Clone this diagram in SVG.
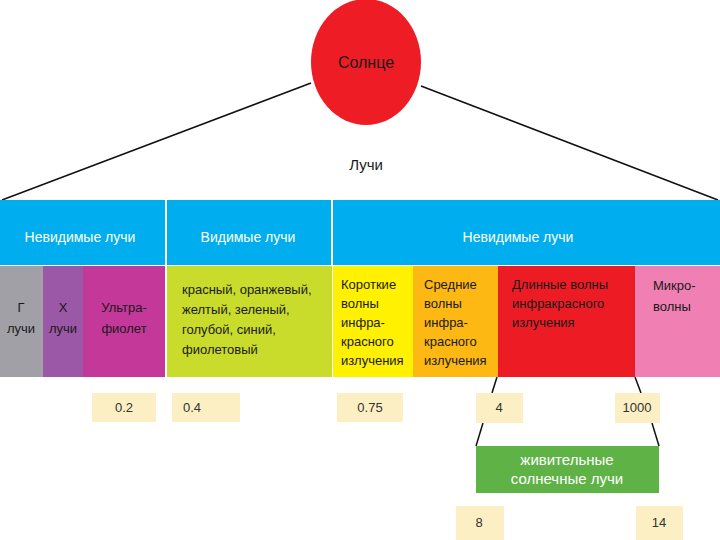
<svg xmlns="http://www.w3.org/2000/svg" width="720" height="540" viewBox="0 0 720 540">
<style>
text{font-family:"Liberation Sans","DejaVu Sans",sans-serif;}
.hd{fill:#ffffff;font-size:14px;text-anchor:middle;}
.ct{fill:#1a1a1a;font-size:13px;}
.cc{fill:#1a1a1a;font-size:13px;text-anchor:middle;}
.val{fill:#fcefc4;}
.vt{fill:#333333;font-size:13px;text-anchor:middle;}
.ln{stroke:#111111;stroke-width:1.5;fill:none;}
</style>
<rect width="720" height="540" fill="#ffffff"/>
<g id="connectors">
<line class="ln" x1="311" y1="83" x2="2" y2="200"/>
<line class="ln" x1="421" y1="86" x2="718" y2="200"/>
<line class="ln" x1="497" y1="377" x2="492" y2="393"/>
<line class="ln" x1="635" y1="377" x2="641" y2="393"/>
<line class="ln" x1="483" y1="423" x2="476" y2="446"/>
<line class="ln" x1="652" y1="423" x2="659" y2="446"/>
</g>
<g id="sun">
<ellipse cx="366" cy="62" rx="55" ry="63" fill="#ee1c25"/>
<text x="366" y="68" class="cc" font-size="16" style="font-size:16px">Солнце</text>
</g>
<g id="rays-label">
<text x="366" y="170" class="cc" style="font-size:15px">Лучи</text>
</g>
<g id="header">
<rect x="0" y="200" width="720" height="65" fill="#00aeef"/>
<line x1="166" y1="200" x2="166" y2="265" stroke="#ffffff" stroke-width="2"/>
<line x1="332" y1="200" x2="332" y2="265" stroke="#ffffff" stroke-width="2"/>
<text x="80" y="242" class="hd">Невидимые лучи</text>
<text x="248" y="242" class="hd">Видимые лучи</text>
<text x="518" y="242" class="hd">Невидимые лучи</text>
</g>
<g id="gamma">
<rect x="0" y="266" width="43" height="111" fill="#a0a0a6"/>
<text x="21" y="312" class="cc">Г</text>
<text x="21" y="333" class="cc">лучи</text>
</g>
<g id="xray">
<rect x="43" y="266" width="40" height="111" fill="#9a58a6"/>
<text x="63" y="312" class="cc">Х</text>
<text x="63" y="333" class="cc">лучи</text>
</g>
<g id="uv">
<rect x="83" y="266" width="82" height="111" fill="#c4389a"/>
<text x="124" y="312" class="cc">Ультра-</text>
<text x="124" y="333" class="cc">фиолет</text>
</g>
<g id="visible">
<rect x="167" y="266" width="165" height="111" fill="#c9dc2b"/>
<text x="182" y="294" class="ct">красный, оранжевый,</text>
<text x="182" y="314" class="ct">желтый, зеленый,</text>
<text x="182" y="334" class="ct">голубой, синий,</text>
<text x="182" y="354" class="ct">фиолетовый</text>
</g>
<g id="ir-short">
<rect x="333" y="266" width="80" height="111" fill="#fff100"/>
<text x="341" y="289" class="ct">Короткие</text>
<text x="341" y="308" class="ct">волны</text>
<text x="341" y="327" class="ct">инфра-</text>
<text x="341" y="346" class="ct">красного</text>
<text x="341" y="365" class="ct">излучения</text>
</g>
<g id="ir-mid">
<rect x="413" y="266" width="85" height="111" fill="#fdb813"/>
<text x="424" y="289" class="ct">Средние</text>
<text x="424" y="308" class="ct">волны</text>
<text x="424" y="327" class="ct">инфра-</text>
<text x="424" y="346" class="ct">красного</text>
<text x="424" y="365" class="ct">излучения</text>
</g>
<g id="ir-long">
<rect x="498" y="266" width="137" height="111" fill="#ed1c24"/>
<text x="512" y="289" class="ct">Длинные волны</text>
<text x="512" y="308" class="ct">инфракрасного</text>
<text x="512" y="327" class="ct">излучения</text>
</g>
<g id="micro">
<rect x="635" y="266" width="85" height="111" fill="#f07fb4"/>
<text x="653" y="290" class="ct">Микро-</text>
<text x="653" y="311" class="ct">волны</text>
</g>
<g id="v02"><rect class="val" x="92" y="393" width="64" height="29"/><text x="124" y="412" class="vt">0.2</text></g>
<g id="v04"><rect class="val" x="172" y="393" width="68" height="29"/><text x="192" y="412" class="vt">0.4</text></g>
<g id="v075"><rect class="val" x="337" y="393" width="66" height="29"/><text x="370" y="412" class="vt">0.75</text></g>
<g id="v4"><rect class="val" x="476" y="393" width="47" height="30"/><text x="499" y="412" class="vt">4</text></g>
<g id="v1000"><rect class="val" x="615" y="393" width="45" height="30"/><text x="637" y="412" class="vt">1000</text></g>
<g id="life">
<rect x="476" y="446" width="183" height="47" fill="#5fb246"/>
<text x="567" y="465" class="hd" style="font-size:15px">живительные</text>
<text x="567" y="484" class="hd" style="font-size:15px">солнечные лучи</text>
</g>
<g id="v8"><rect class="val" x="456" y="506" width="48" height="34"/><text x="479" y="527" class="vt">8</text></g>
<g id="v14"><rect class="val" x="636" y="506" width="47" height="34"/><text x="659" y="527" class="vt">14</text></g>
</svg>
